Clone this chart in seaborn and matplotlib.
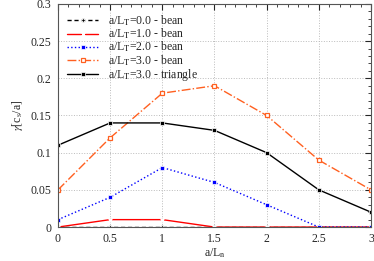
import numpy as np
import pandas as pd
import matplotlib.pyplot as plt
import seaborn as sns
from matplotlib.ticker import MultipleLocator

# data
a_Ln = [0, 0.5, 1, 1.5, 2, 2.5, 3]
lt0_bean = [0, 0, 0, 0, 0, 0, 0]
lt1_bean = [0, 0.01, 0.01, 0, 0, 0, 0]
lt2_bean = [0.01, 0.04, 0.08, 0.06, 0.03, 0, 0]
lt3_bean = [0.05, 0.12, 0.18, 0.19, 0.15, 0.09, 0.05]
lt3_triangle = [0.11, 0.14, 0.14, 0.13, 0.10, 0.05, 0.02]

x_ticks = [0, 0.5, 1, 1.5, 2, 2.5, 3]
x_ticklabels = ["0", "0.5", "1", "1.5", "2", "2.5", "3"]
y_ticks = [0, 0.05, 0.1, 0.15, 0.2, 0.25, 0.3]
y_ticklabels = ["0", "0.05", "0.1", "0.15", "0.2", "0.25", "0.3"]

labels = [r"a/L$_\mathrm{T}$=0.0 - bean", r"a/L$_\mathrm{T}$=1.0 - bean",
          r"a/L$_\mathrm{T}$=2.0 - bean", r"a/L$_\mathrm{T}$=3.0 - bean",
          r"a/L$_\mathrm{T}$=3.0 - triangle"]
series = [lt0_bean, lt1_bean, lt2_bean, lt3_bean, lt3_triangle]

sns.set_style("white")
plt.rcParams['font.family'] = ['Liberation Serif', 'DejaVu Serif']
plt.rcParams['mathtext.fontset'] = 'stix'

styles = [
    dict(color="black", linestyle=(0, (3, 2)), marker="P", ms=3, mfc="black", mew=0.5),
    dict(color="red", linestyle="-", marker="x", ms=3.5, mew=1.0),
    dict(color="blue", linestyle=":", marker="s", ms=3, mfc="blue", mew=0.5),
    dict(color="#ff6020", linestyle="-.", marker="s", ms=3.5, mfc="white", mec="#ff6020", mew=0.9),
    dict(color="black", linestyle="-", marker="s", ms=2.5, mfc="black", mew=0.5),
]

fig = plt.figure(figsize=(3.74, 2.61), dpi=100)
ax = fig.add_axes([0.155, 0.13, 0.837, 0.855])

for lab, vals, st in zip(labels, series, styles):
    df = pd.DataFrame({"x": a_Ln, "y": vals})
    sns.lineplot(data=df, x="x", y="y", ax=ax, label=lab, linewidth=1.0, **st)

ax.set_xlim(0, 3)
ax.set_ylim(0, 0.3)
ax.set_xticks(x_ticks)
ax.set_xticklabels(x_ticklabels, fontsize=8.5)
ax.set_yticks(y_ticks)
ax.set_yticklabels(y_ticklabels, fontsize=8.5)
ax.xaxis.set_minor_locator(MultipleLocator(0.1))
ax.yaxis.set_minor_locator(MultipleLocator(0.01))
ax.tick_params(which="both", direction="in", top=True, right=True)
ax.tick_params(axis="x", pad=4)
ax.tick_params(axis="y", pad=5)
ax.tick_params(which="major", length=4, width=0.8)
ax.tick_params(which="minor", length=2, width=0.6)
ax.grid(True, which="major", color="#bbbbbb", linestyle=":", linewidth=0.7)
for s in ax.spines.values():
    s.set_color("#555555")
    s.set_linewidth(0.8)

ax.set_xlabel(r"a/L$_\mathrm{n}$", fontsize=8.5, labelpad=1)
ax.set_ylabel(r"$\gamma$[c$_\mathrm{s}$/a]", fontsize=8.5, labelpad=4)

leg = ax.legend(loc="upper left", fontsize=8.5, frameon=False, handlelength=2.6,
                labelspacing=-0.1, borderaxespad=0.4, handletextpad=0.8)

fig.savefig("out.png", dpi=100)
